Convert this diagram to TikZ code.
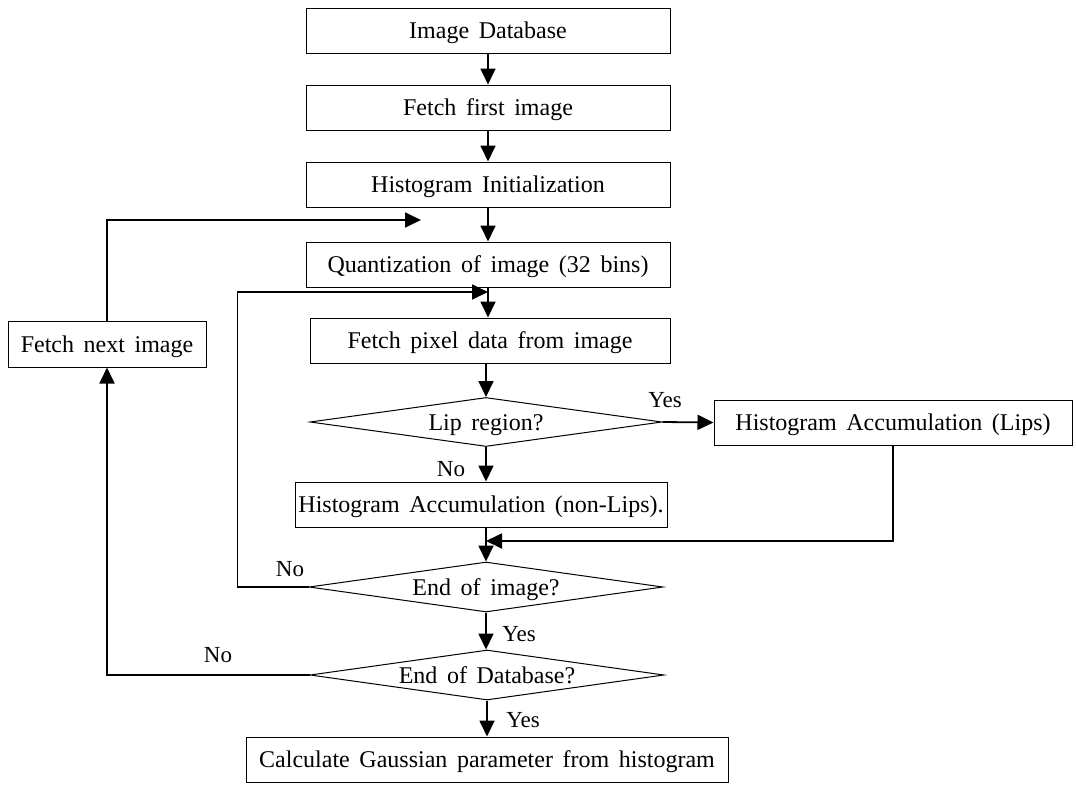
\documentclass[tikz,border=0pt]{standalone}
\usepackage{fontspec}
\setmainfont[WordSpace={1.6}]{Liberation Serif}
\usetikzlibrary{positioning,arrows.meta,shapes.geometric}
\tikzset{%
    stepbox/.style={draw,line width=1pt,minimum height=45pt,inner sep=0pt,text height=17pt,text depth=1pt,font=\fontsize{24}{27}\selectfont},
    decision/.style={diamond,draw,line width=1pt,aspect=7,inner sep=0pt,text height=17pt,text depth=1pt,minimum width=354pt,minimum height=50pt,font=\fontsize{24}{27}\selectfont},
    flow/.style={line width=1.8pt,-{Triangle[length=16pt,width=15pt]}},
    lbl/.style={font=\fontsize{23}{26}\selectfont,inner sep=0pt},
}

\begin{document}
\begin{tikzpicture}[x=1pt,y=-1pt]
    \useasboundingbox[fill=white] (0,0) rectangle (1076,790);

    % main column
    \node[stepbox,minimum width=364pt] (db) at (488,30.5) {Image Database};
    \node[stepbox,minimum width=364pt] (first) at (488,107.5) {Fetch first image};
    \node[stepbox,minimum width=364pt] (init) at (488,184.5) {Histogram Initialization};
    \node[stepbox,minimum width=364pt] (quant) at (488,264.5) {Quantization of image (32 bins)};
    \node[stepbox,minimum width=360pt] (pixel) at (490,340.5) {Fetch pixel data from image};
    \node[decision,minimum width=352pt,minimum height=49pt] (lip) at (486,422) {Lip region?};
    \node[stepbox,minimum width=358pt] (lips) at (893,422.5) {Histogram Accumulation (Lips)};
    \node[stepbox,minimum width=372pt] (nonlips) at (481,504.5) {Histogram Accumulation (non-Lips).};
    \node[decision] (endimg) at (486,587) {End of image?};
    \node[decision] (enddb) at (487,675) {End of Database?};
    \node[stepbox,minimum width=482pt] (gauss) at (487,759.5) {Calculate Gaussian parameter from histogram};
    % side box
    \node[stepbox,minimum width=198pt,minimum height=46pt] (next) at (107,344) {Fetch next image};

    % joints
    \coordinate (top) at (421,220);
    \coordinate (loop) at (488,292);
    \coordinate (merge) at (486,541);

    % arrows
    \draw[flow] (db) -- (first);
    \draw[flow] (first) -- (init);
    \draw[flow] (init) -- (quant);
    \draw[flow] (quant.south) -- (quant.south |- pixel.north);
    \draw[flow] (pixel.south -| lip.north) -- (lip.north);
    \draw[flow] (lip.east) -- (lips.west);
    \draw[flow] (lip.south) -- (lip.south |- nonlips.north);
    \draw[flow] (nonlips.south -| endimg.north) -- (endimg.north);
    \draw[flow] (lips.south) |- (merge);
    \draw[flow] (endimg.west) -- ++(-71,0) |- (loop);
    \draw[flow] (endimg.south) -- (endimg.south |- enddb.north);
    \draw[flow] (enddb.west) -| (next.south);
    \draw[flow] (enddb.south) -- (enddb.south |- gauss.north);
    \draw[flow] (next.north) |- (top);

    % labels
    \node[lbl] (yes1) at (665,400) {Yes};
    \node[lbl] (no1) at (451,469) {No};
    \node[lbl] (no2) at (290,569) {No};
    \node[lbl] (yes2) at (519,634) {Yes};
    \node[lbl] (no3) at (218,655) {No};
    \node[lbl] (yes3) at (523,720) {Yes};
\end{tikzpicture}
\end{document}
